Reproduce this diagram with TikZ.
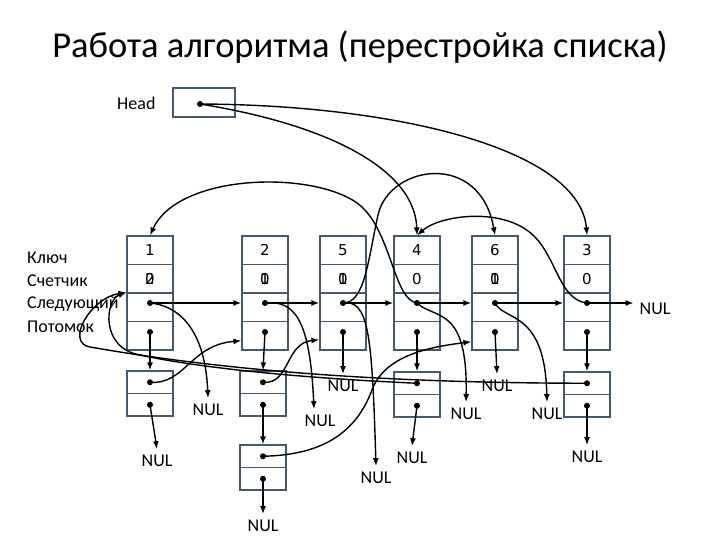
\documentclass[tikz,border=0pt]{standalone}
\usepackage{fontspec}
\setmainfont{Carlito}
\newfontfamily\digitfont{DejaVu Sans}
\usetikzlibrary{arrows.meta}

\definecolor{boxblue}{RGB}{68,88,110}

\tikzset{
    cell/.style={draw=boxblue, line width=1.2pt, minimum width=46pt, minimum height=28.5pt, inner sep=0pt, font=\digitfont\fontsize{15}{15}\selectfont},
    subcell/.style={cell, minimum height=22.5pt},
    ptr/.style={line width=1.4pt, -{Latex[length=8pt,width=6pt]}},
    nul/.style={font=\fontsize{18}{18}\selectfont, inner sep=1pt, outer sep=5pt},
    lbl/.style={font=\fontsize{18}{18}\selectfont, anchor=west, inner sep=0pt},
}

\begin{document}
\begin{tikzpicture}[x=1pt,y=-1pt]
    \useasboundingbox (0,0) rectangle (720,540);
    \fill[white] (0,0) rectangle (720,540);

    \def\dotr{3pt}

    % Title
    \node[font=\fontsize{36.5}{36.5}\selectfont] (title) at (360,47) {Работа алгоритма (перестройка списка)};

    % Head
    \node[lbl] (headlbl) at (117,103) {Head};
    \node[cell, minimum width=62pt, minimum height=29pt] (head) at (204,102.5) {};
    \coordinate (dhead) at (200,104);
    \fill (dhead) circle (\dotr);

    % Field names
    \node[lbl] (lkey) at (27,258) {Ключ};
    \node[lbl] (lcnt) at (27,281) {Счетчик};
    \node[lbl] (lnext) at (27,304) {Следующий};
    \node[lbl] (lkid) at (27,327) {Потомок};

    % Top row: key / counter / next / kid
    \foreach \k/\x/\a/\b in {1/150/0/2, 2/265/0/1, 5/343/0/1, 4/417/0/{}, 6/495/0/1, 3/587/0/{}} {
        \node[cell] (key\k) at (\x,250.25) {\k};
        \node[cell] (cnt\k) at (\x,278.75) {\makebox[0pt]{\a}\makebox[0pt]{\b}};
        \node[cell] (next\k) at (\x,307.25) {};
        \node[cell] (kid\k) at (\x,335.75) {};
        \coordinate (dn\k) at (\x,303);
        \coordinate (dk\k) at (\x,332);
        \fill (dn\k) circle (\dotr);
        \fill (dk\k) circle (\dotr);
    }

    % Lower row: next / kid
    \foreach \s/\x/\y in {A/150/371, B/263/371, C/263/445, D/417/372, E/587/372} {
        \node[subcell] (snext\s) at (\x,\y+11.25) {};
        \node[subcell] (skid\s) at (\x,\y+33.75) {};
        \coordinate (sdn\s) at (\x,\y+11.25);
        \coordinate (sdk\s) at (\x,\y+33.75);
        \fill (sdn\s) circle (\dotr);
        \fill (sdk\s) circle (\dotr);
    }

    % NUL ends
    \node[nul] (nulR) at (655,309) {NUL};
    \node[nul] (nulK5) at (343,386) {NUL};
    \node[nul] (nulK6) at (497,386) {NUL};
    \node[nul] (nulA) at (157,461) {NUL};
    \node[nul] (nulC) at (263,526) {NUL};
    \node[nul] (nulD) at (412,458) {NUL};
    \node[nul] (nulE) at (587,457) {NUL};
    \node[nul] (n1) at (208,410) {NUL};
    \node[nul] (n2) at (320,421) {NUL};
    \node[nul] (n5) at (376,478) {NUL};
    \node[nul] (n4) at (466,414) {NUL};
    \node[nul] (n6) at (547,414) {NUL};

    % next pointers
    \draw[ptr] (dn1) -- (dn1 -| next2.west);
    \draw[ptr] (dn2) -- (dn2 -| next5.west);
    \draw[ptr] (dn5) -- (dn5 -| next4.west);
    \draw[ptr] (dn4) -- (dn4 -| next6.west);
    \draw[ptr] (dn6) -- (dn6 -| next3.west);
    \draw[ptr] (dn3) -- (dn3 -| nulR.west);

    % kid pointers
    \draw[ptr] (dk1) -- (snextA.north);
    \draw[ptr] (dk2) -- (snextB.north);
    \draw[ptr] (dk5) -- (nulK5.north);
    \draw[ptr] (dk4) -- (snextD.north);
    \draw[ptr] (dk6) -- (nulK6.north);
    \draw[ptr] (dk3) -- (snextE.north);
    \draw[ptr] (sdkA) -- (nulA.north);
    \draw[ptr] (sdkB) -- (snextC.north);
    \draw[ptr] (sdkC) -- (nulC.north);
    \draw[ptr] (sdkD) -- (nulD.north);
    \draw[ptr] (sdkE) -- (nulE.north);

    % Head
    \draw[ptr] (dhead) .. controls (330,125) and (415,170) .. (key4.north);
    \draw[ptr] (dhead) .. controls (400,105) and (580,150) .. (key3.north);

    % rebuilt links
    \draw[ptr] (dn4) .. controls (395,300) and (392,240) .. (365,210) .. controls (329,170) and (180,170) .. (key1.north);
    \draw[ptr] (dn5) .. controls (365,303) and (368,260) .. (378,215) .. controls (389,165) and (480,150) .. (key6.north);
    \draw[ptr] (dn3) .. controls (560,300) and (557,260) .. (535,237) .. controls (505,206) and (440,215) .. (key4.north);

    % old links to NUL
    \draw[ptr] (dn1) .. controls (175,305) and (205,325) .. (n1.north);
    \draw[ptr] (dn2) .. controls (295,300) and (310,320) .. ([xshift=-6pt]n2.north);
    \draw[ptr] (dn5) .. controls (368,300) and (372,330) .. (n5.north);
    \draw[ptr] (dn4) .. controls (435,320) and (468,305) .. (n4.north);
    \draw[ptr] (dn6) .. controls (505,322) and (545,310) .. (n6.north);

    % lower row links
    \draw[ptr] (sdnA) .. controls (185,385) and (190,345) .. ([yshift=-5pt]kid2.west);
    \draw[ptr] (sdnB) .. controls (290,385) and (285,343) .. ([yshift=-4pt]kid5.west);
    \draw[ptr] (sdnC) .. controls (320,455) and (355,435) .. (372,390) .. controls (385,355) and (430,347) .. ([yshift=-6pt]kid6.west);
    \draw[ptr] (sdnD) .. controls (300,378) and (200,368) .. (140,355) .. controls (100,348) and (105,300) .. (next1.north west);
    \draw[ptr] (sdnE) .. controls (420,383) and (250,375) .. (90,347) .. controls (65,343) and (90,298) .. (next1.north west);

\end{tikzpicture}
\end{document}
